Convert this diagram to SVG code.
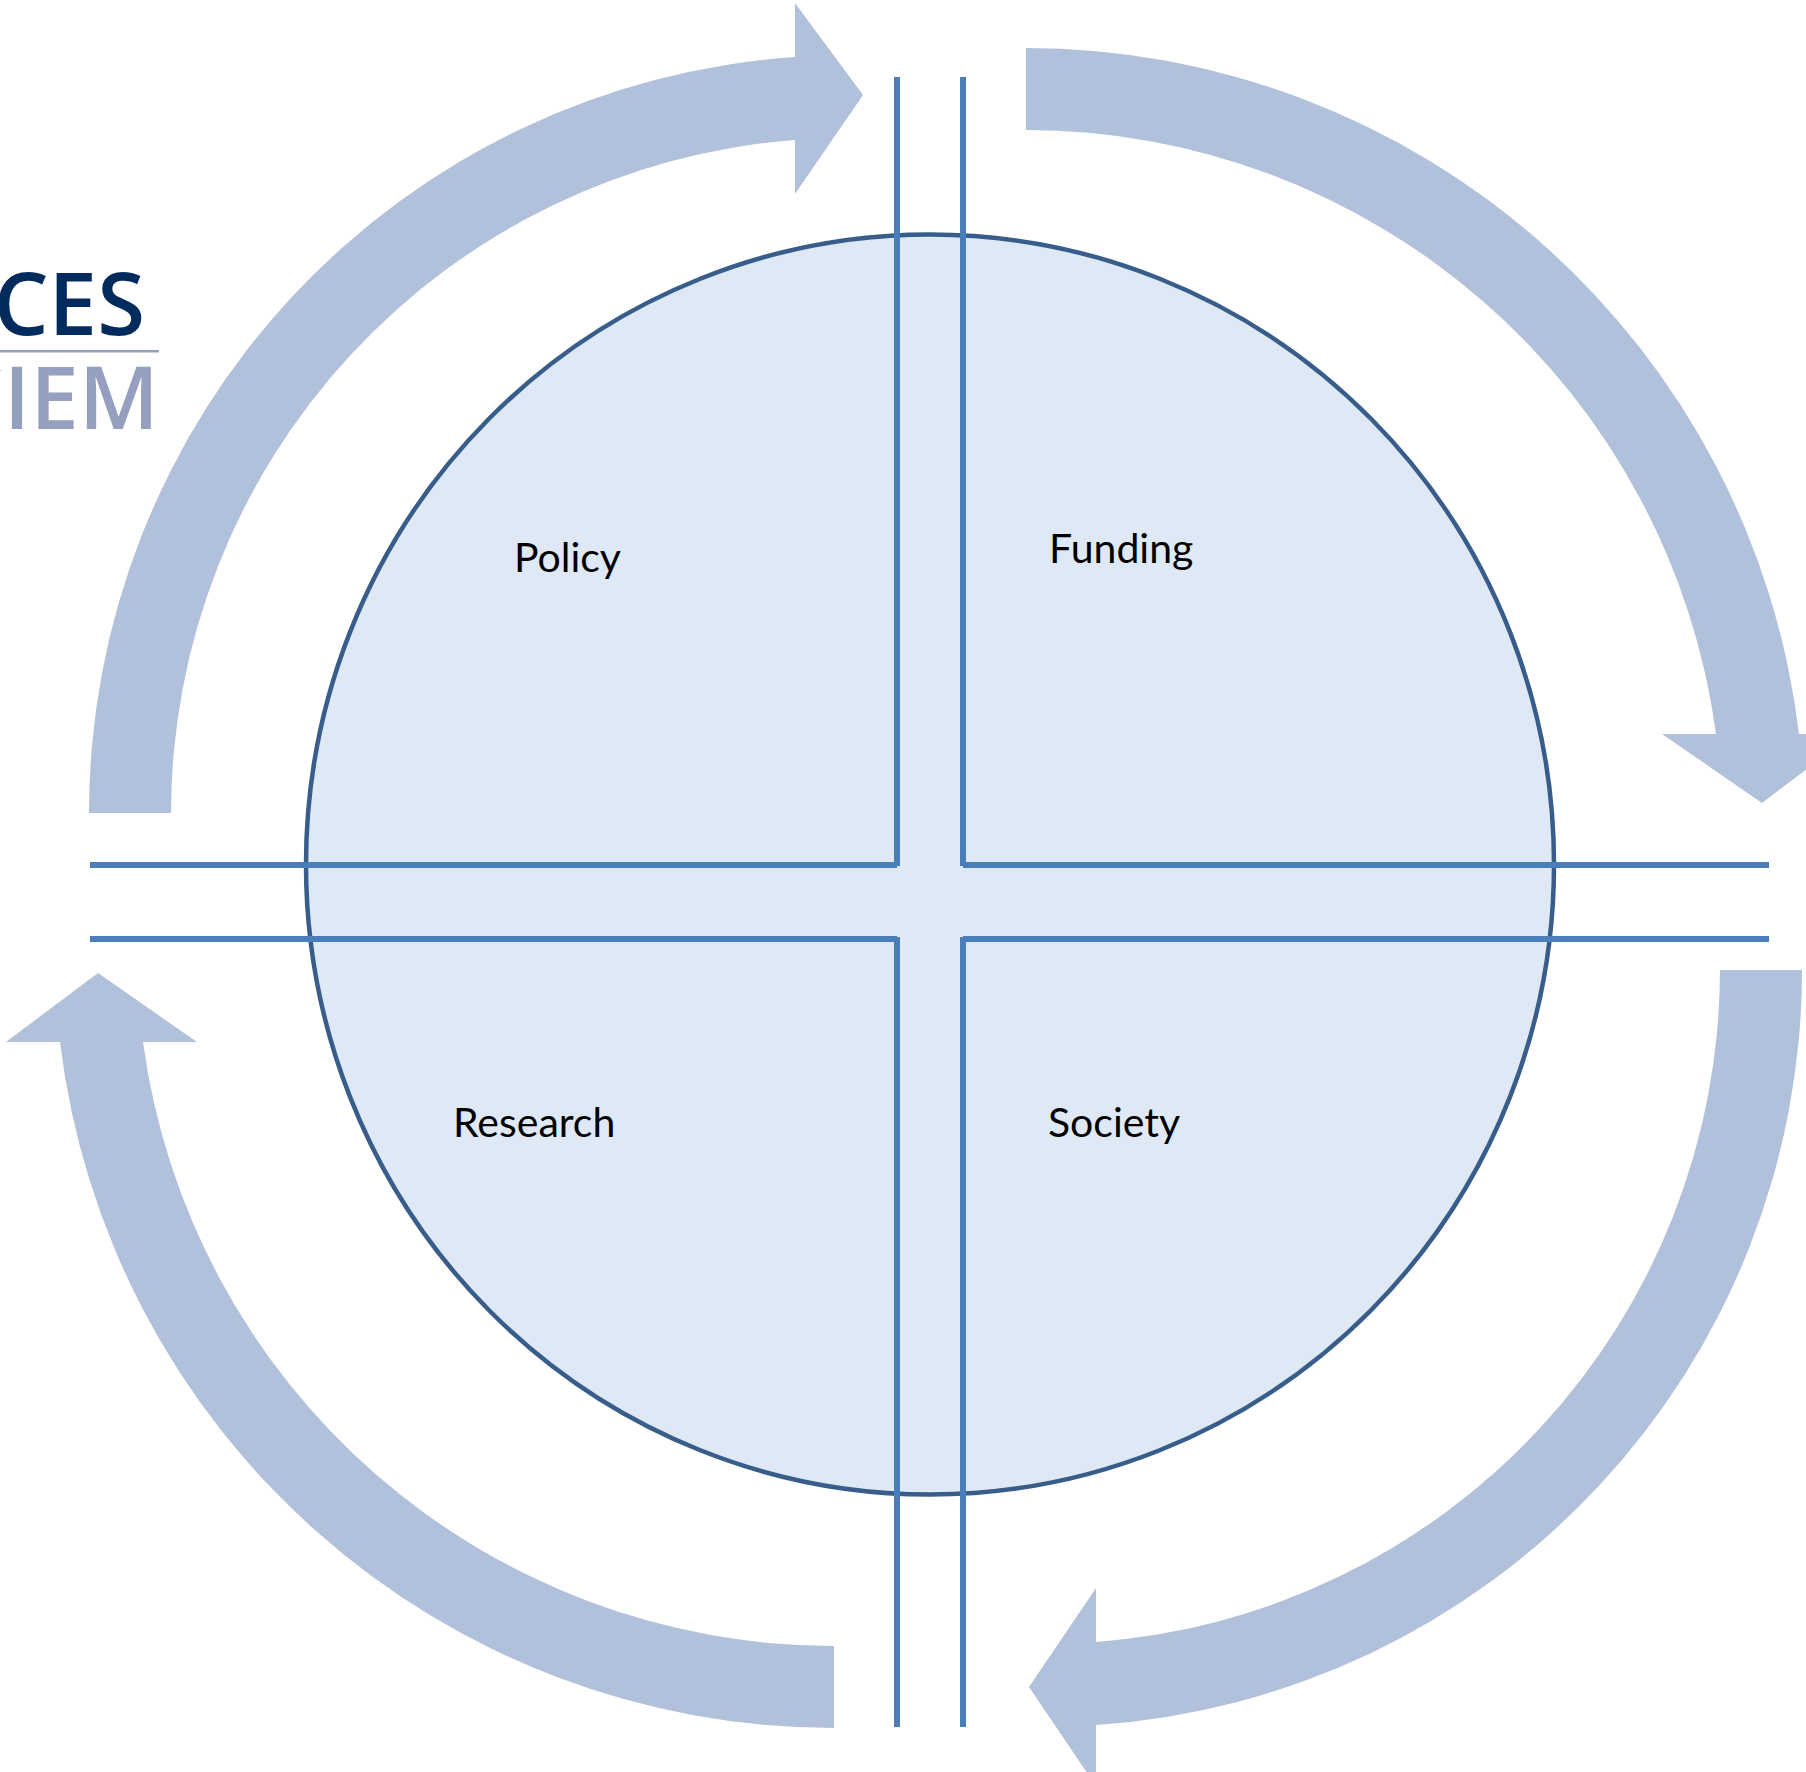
<svg xmlns="http://www.w3.org/2000/svg" width="1806" height="1772" viewBox="0 0 1806 1772">
<style>
.arrow{fill:#B1C1DB}
.rule{stroke:#4A7EBB;stroke-width:6;fill:none}
.label{font-family:Lato,"Liberation Sans",sans-serif;font-size:41px;fill:#000}
.logo{font-family:"Open Sans","Liberation Sans",sans-serif;font-weight:600;font-size:87px}
</style>
<rect width="1806" height="1772" fill="#fff"/>
<g id="logo">
<text class="logo" x="159" y="335" fill="#002B5C" text-anchor="end" dx="-14">CES</text>
<rect x="0" y="350" width="159" height="2.5" fill="#8FA3BF"/>
<text class="logo" x="159" y="429" fill="#959FC0" text-anchor="end">CIEM</text>
</g>
<g id="cycle-arrows">
<path id="arrow-top-left" class="arrow" d="M89 813A757.8 757.8 0 0 1 795 57L795 3L863 95L795 194L795 140A675.8 675.8 0 0 0 171 813Z"/>
<path id="arrow-top-right" class="arrow" d="M1026 48A778.5 778.5 0 0 1 1799 734L1853 734L1762 803L1662 734L1716 734A696.5 696.5 0 0 0 1026 130Z"/>
<path id="arrow-bottom-right" class="arrow" d="M1802 970A756.7 756.7 0 0 1 1096 1725L1096 1786L1029 1687L1096 1588L1096 1642A674.7 674.7 0 0 0 1720 970Z"/>
<path id="arrow-bottom-left" class="arrow" d="M834 1728A779.6 779.6 0 0 1 60 1042L6 1042L98 973L197 1042L143 1042A697.5 697.5 0 0 0 834 1646Z"/>
</g>
<g id="circle">
<ellipse cx="930" cy="864.5" rx="624" ry="630" fill="#DEE9F5" stroke="#385D8A" stroke-width="4.5"/>
</g>
<g id="connectors">
<path class="rule" d="M897 77V866M963 77V866M897 937V1727M963 937V1727M90 865H897M963 865H1769M90 939H897M963 939H1769"/>
</g>
<g id="policy"><text class="label" x="514" y="572">Policy</text></g>
<g id="funding"><text class="label" x="1049" y="563">Funding</text></g>
<g id="research"><text class="label" x="453" y="1137">Research</text></g>
<g id="society"><text class="label" x="1048" y="1137">Society</text></g>
</svg>
